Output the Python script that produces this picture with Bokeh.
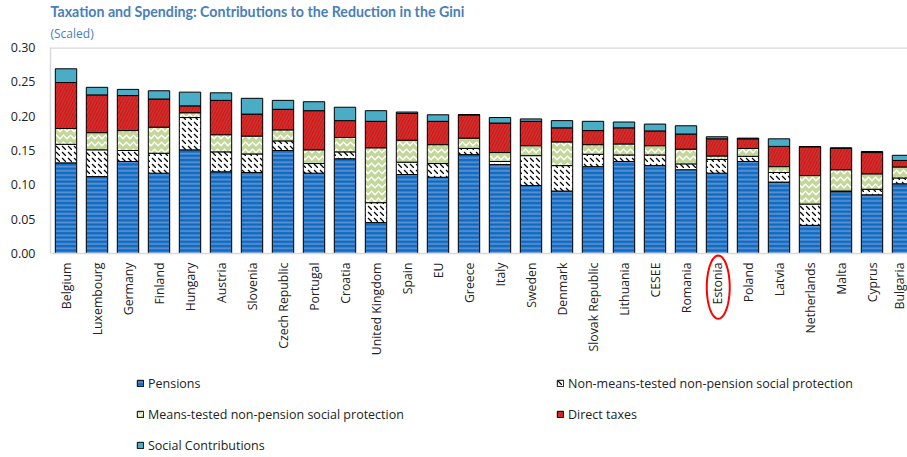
import numpy as np
from bokeh.plotting import figure
from bokeh.models import (Range1d, FixedTicker, PrintfTickFormatter, Legend, LegendItem,
                          Title, PolyAnnotation, ColumnDataSource, Span)
from bokeh.embed import file_html
from bokeh.resources import INLINE

countries = ["Belgium", "Luxembourg", "Germany", "Finland", "Hungary", "Austria", "Slovenia",
             "Czech Republic", "Portugal", "Croatia", "United Kingdom", "Spain", "EU", "Greece",
             "Italy", "Sweden", "Denmark", "Slovak Republic", "Lithuania", "CESEE", "Romania",
             "Estonia", "Poland", "Latvia", "Netherlands", "Malta", "Cyprus", "Bulgaria"]

pensions = [0.132, 0.112, 0.134, 0.117, 0.151, 0.119, 0.118, 0.150, 0.117, 0.138, 0.045, 0.115,
            0.111, 0.144, 0.1295, 0.099, 0.091, 0.1265, 0.134, 0.128, 0.122, 0.117, 0.134, 0.104,
            0.041, 0.090, 0.0855, 0.1015]
non_means = [0.027, 0.039, 0.016, 0.029, 0.047, 0.029, 0.027, 0.014, 0.014, 0.010, 0.029, 0.018,
             0.020, 0.009, 0.0045, 0.0435, 0.037, 0.018, 0.0095, 0.0155, 0.0085, 0.020, 0.0075,
             0.014, 0.031, 0.001, 0.008, 0.0085]
means_tested = [0.023, 0.025, 0.029, 0.038, 0.007, 0.025, 0.026, 0.016, 0.020, 0.021, 0.080, 0.032,
                0.0275, 0.015, 0.013, 0.0145, 0.0345, 0.014, 0.016, 0.0135, 0.0215, 0.005, 0.0115,
                0.0085, 0.0415, 0.031, 0.0225, 0.016]
direct_taxes = [0.067, 0.055, 0.051, 0.041, 0.010, 0.050, 0.032, 0.030, 0.057, 0.0245, 0.0385,
                0.039, 0.034, 0.034, 0.043, 0.0355, 0.0205, 0.0205, 0.0235, 0.0215, 0.022, 0.025,
                0.014, 0.0295, 0.042, 0.031, 0.031, 0.0095]
social_contrib = [0.020, 0.011, 0.009, 0.012, 0.020, 0.011, 0.023, 0.013, 0.013, 0.0195, 0.0155,
                  0.002, 0.0095, 0.0, 0.008, 0.0035, 0.0105, 0.0135, 0.0085, 0.010, 0.012, 0.003,
                  0.001, 0.011, 0.0, 0.001, 0.0015, 0.0075]

series_keys = ["pensions", "non_means", "means_tested", "direct_taxes", "social_contrib"]
series_labels = ["Pensions", "Non-means-tested non-pension social protection",
                 "Means-tested non-pension social protection", "Direct taxes",
                 "Social Contributions"]
y_ticks = [0.0, 0.05, 0.10, 0.15, 0.20, 0.25, 0.30]
y_max = 0.30
highlight = "Estonia"

xpos = list(range(len(countries)))
src = ColumnDataSource(dict(x=xpos, pensions=pensions, non_means=non_means,
                            means_tested=means_tested, direct_taxes=direct_taxes,
                            social_contrib=social_contrib))

# layout (pixels)
W, H = 907, 457
LEFT, TOP = 50, 47
ZERO_Y = 253            # screen row of value 0
STEP = 31.0             # pixels per category
x_end = -0.5 + (W - LEFT) / STEP
y_start = -y_max * (H - ZERO_Y) / (ZERO_Y - TOP)

p = figure(width=W, height=H, output_backend="svg", toolbar_location=None, title=None,
           x_range=Range1d(-0.5, x_end), y_range=Range1d(y_start, y_max),
           min_border_left=LEFT, min_border_right=0, min_border_top=TOP,
           min_border_bottom=0)
p.background_fill_color = "white"
p.border_fill_color = "white"
p.outline_line_color = None
p.xgrid.visible = False
p.ygrid.visible = False

renderers = p.vbar_stack(
    series_keys, x="x", width=0.69, source=src,
    fill_color=["#0a6cc4", "white", "#c4d79b", "#ff0000", "#4bacc6"],
    hatch_pattern=["horizontal_line", "left_diagonal_dash", "horizontal_wave",
                   "right_diagonal_line", "blank"],
    hatch_color=["#6390cc", "black", "white", "#b03c3c", "#4bacc6"],
    hatch_scale=[4.3, 6.0, 7.0, 6.0, 6.0],
    hatch_weight=[1.8, 1.3, 1.5, 1.8, 1.0],
    line_color="black", line_width=1)

# top border of the plot box
p.add_layout(Span(location=y_max, dimension="width", line_color="#d9d9d9", line_width=2.5))

# axes
yax = p.yaxis[0]
yax.bounds = (0, y_max)
yax.ticker = FixedTicker(ticks=y_ticks)
yax.formatter = PrintfTickFormatter(format="%.2f")
yax.major_tick_in = 0
yax.major_tick_out = 0
yax.minor_tick_line_color = None
yax.major_tick_line_color = None
yax.axis_line_color = "#d9d9d9"
yax.axis_line_width = 1.5
yax.major_label_standoff = 15
yax.major_label_text_font = "Open Sans"
yax.major_label_text_font_size = "12.5px"
yax.major_label_text_color = "#222222"

xax = p.xaxis[0]
xax.fixed_location = 0
xax.ticker = FixedTicker(ticks=xpos)
xax.major_label_overrides = {i: c for i, c in zip(xpos, countries)}
xax.major_label_orientation = np.pi / 2
xax.major_tick_in = 0
xax.major_tick_out = 0
xax.minor_tick_line_color = None
xax.major_tick_line_color = None
xax.axis_line_color = "#d9d9d9"
xax.axis_line_width = 1.5
xax.major_label_standoff = 9
xax.major_label_text_font = "Open Sans"
xax.major_label_text_font_size = "12.3px"
xax.major_label_text_color = "#222222"

# titles
sub = Title(text="(Scaled)", text_font="Open Sans", text_font_size="12px",
            text_font_style="normal", text_color="#4a7ebb", align="left", standoff=11)
main = Title(text="Taxation and Spending: Contributions to the Reduction in the Gini",
             text_font="Lato", text_font_size="14.2px", text_font_style="bold",
             text_color="#4a7ebb", align="left", standoff=-4)
p.add_layout(sub, "above")
p.add_layout(main, "above")

# highlight ellipse around the Estonia label
ei = countries.index(highlight)
theta = np.linspace(0, 2 * np.pi, 72)
ell = PolyAnnotation(xs=list(ei + 0.04 + 0.37 * np.cos(theta)),
                     ys=list(-0.049 + 0.046 * np.sin(theta)),
                     fill_color=None, fill_alpha=0, line_color="#ff0000", line_alpha=1.0,
                     line_width=2)
p.add_layout(ell)

# legends
def make_legend(idx, loc):
    return Legend(items=[LegendItem(label=series_labels[i], renderers=[renderers[i]]) for i in idx],
                  location=loc, orientation="vertical",
                  glyph_width=8, glyph_height=8, label_height=17, label_standoff=4,
                  spacing=14, padding=0, margin=0, border_line_color=None,
                  background_fill_alpha=0, label_text_font="Open Sans",
                  label_text_font_size="12.5px", label_text_color="#222222")

p.add_layout(make_legend([0, 2, 4], (86, 3.5)))
p.add_layout(make_legend([1, 3], (506, 34.5)))

open("out.html", "w").write(file_html(p, INLINE))
